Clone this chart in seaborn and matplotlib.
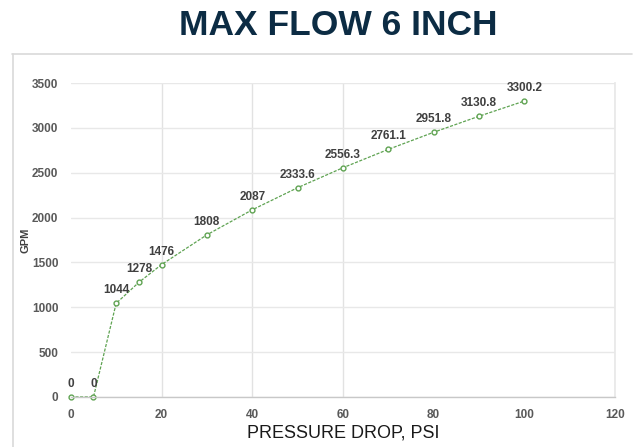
import matplotlib
matplotlib.use("Agg")
import matplotlib.pyplot as plt
import seaborn as sns
import pandas as pd
from matplotlib.lines import Line2D

pressure_drop = [0, 5, 10, 15, 20, 30, 40, 50, 60, 70, 80, 90, 100]
gpm = [0, 0, 1044, 1278, 1476, 1808, 2087, 2333.6, 2556.3, 2761.1, 2951.8, 3130.8, 3300.2]
point_labels = ["0", "0", "1044", "1278", "1476", "1808", "2087", "2333.6",
                "2556.3", "2761.1", "2951.8", "3130.8", "3300.2"]
x_ticks = [0, 20, 40, 60, 80, 100, 120]
y_ticks = [0, 500, 1000, 1500, 2000, 2500, 3000, 3500]

df = pd.DataFrame({"psi": pressure_drop, "gpm": gpm})

sns.set_theme(style="white")
plt.rcParams["font.family"] = ["Liberation Sans", "DejaVu Sans"]

fig = plt.figure(figsize=(6.38, 4.47), dpi=100)
ax = fig.add_axes([0.111, 0.112, 0.853, 0.702])

line_color = "#5fa352"
sns.lineplot(data=df, x="psi", y="gpm", ax=ax, color=line_color,
             linewidth=0.9, marker="o", markersize=3.5,
             markerfacecolor="white", markeredgecolor=line_color,
             markeredgewidth=1.0)
for ln in ax.get_lines():
    ln.set_dashes((2.5, 1.2))
    ln.set_clip_on(False)

for x, y, lab in zip(pressure_drop, gpm, point_labels):
    ax.annotate(lab, (x, y), xytext=(0, 5), textcoords="offset points",
                ha="center", va="bottom", fontsize=8.5, fontweight="bold",
                color="#404040")

ax.set_xlim(0, 120)
ax.set_ylim(0, 3500)
ax.set_xticks(x_ticks)
ax.set_yticks(y_ticks)
ax.tick_params(axis="both", labelsize=8.5, colors="#595959", length=0, pad=9)
for t in ax.get_xticklabels() + ax.get_yticklabels():
    t.set_fontweight("bold")

ax.grid(True, axis="y", color="#e8e8e8", linewidth=1.0)
ax.grid(True, axis="x", color="#e2e2e2", linewidth=1.0)
gl = ax.get_xgridlines()
for i in (0, 4, 5):
    gl[i].set_visible(False)

for s in ("top", "left"):
    ax.spines[s].set_visible(False)
ax.spines["right"].set_color("#e8e8e8")
ax.spines["bottom"].set_color("#c8c8c8")
ax.spines["bottom"].set_linewidth(1.0)

ax.set_xlabel("PRESSURE DROP, PSI", fontsize=13, color="#1a1a1a", labelpad=2)
ax.set_ylabel("GPM", fontsize=8, fontweight="bold", color="#404040", labelpad=2)
ax.yaxis.set_label_coords(-0.075, 0.5)

fig.text(0.53, 0.943, "MAX FLOW 6 INCH", ha="center", va="center",
         fontsize=25.5, fontweight="bold", color="#0c2c44")

# outer frame (top and left edges)
fig.add_artist(Line2D([12 / 638, 632 / 638], [1 - 54 / 447, 1 - 54 / 447],
                      transform=fig.transFigure, color="#d9d9d9", linewidth=1.2))
fig.add_artist(Line2D([13 / 638, 13 / 638], [0, 1 - 54 / 447],
                      transform=fig.transFigure, color="#d9d9d9", linewidth=1.2))

fig.savefig("out.png", dpi=100)
